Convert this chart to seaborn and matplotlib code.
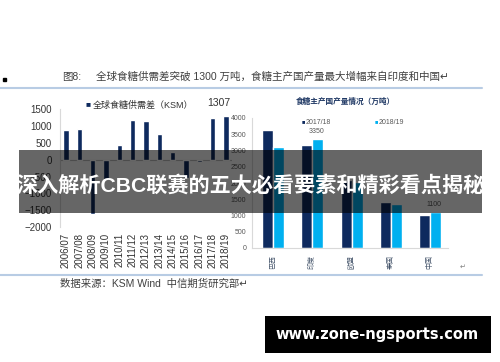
import matplotlib
matplotlib.use("Agg")
import matplotlib.pyplot as plt
import seaborn as sns
import pandas as pd
from matplotlib.patches import Rectangle

sns.set_theme(style="white")
plt.rcParams['font.family'] = ['Liberation Sans', 'Noto Sans CJK SC', 'DejaVu Sans']

# ---- data ----
seasons = ["2006/07", "2007/08", "2008/09", "2009/10", "2010/11", "2011/12", "2012/13",
           "2013/14", "2014/15", "2015/16", "2016/17", "2017/18", "2018/19"]
balance = [880, 920, -1620, -600, 430, 1180, 1150, 770, 220, -550, -50, 1240, 1307]

countries = ["巴西", "印度", "欧盟", "泰国", "中国"]
prod_1718 = [3620, 3180, 2100, 1430, 1030]
prod_1819 = [3100, 3350, 2030, 1350, 1100]
years = ["2017/18", "2018/19"]

navy = "#0e2a5e"
cyan = "#00b0f0"
W, H = 500, 362

fig = plt.figure(figsize=(5, 3.62), dpi=100)
fig.patch.set_facecolor("white")

def fx(px):
    return px / W

def fy(py):
    return 1 - py / H

# ---- left chart ----
ax1 = fig.add_axes([fx(60), fy(227), fx(232) - fx(60), fy(109.5) - fy(227)])
sns.barplot(x=seasons, y=balance, color=navy, saturation=1, width=0.4, ax=ax1)
ax1.set_ylim(-2000, 1500)
ax1.set_xlim(-0.45, 12.45)
ax1.set_yticks(range(-2000, 1501, 500))
ax1.tick_params(axis="y", labelsize=7, length=0, pad=6, labelcolor="#333333")
ax1.tick_params(axis="x", labelsize=7, length=0, pad=4, labelcolor="#333333", rotation=90)
ax1.axhline(0, color="#bfbfbf", lw=0.8, zorder=0)
for s in ["top", "right", "bottom"]:
    ax1.spines[s].set_visible(False)
ax1.spines["left"].set_color("#d9d9d9")
ax1.spines["left"].set_linewidth(0.8)
ax1.set_facecolor("none")
ax1.annotate(f"{balance[-1]}", xy=(12, balance[-1]), xytext=(-5, 6), textcoords="offset points",
             ha="center", va="bottom", fontsize=7.5, color="#333333")

# ---- right chart ----
df = pd.DataFrame({
    "country": countries * 2,
    "year": [years[0]] * len(countries) + [years[1]] * len(countries),
    "value": prod_1718 + prod_1819,
})
ax2 = fig.add_axes([fx(252), fy(248), fx(448) - fx(252), fy(118) - fy(248)])
sns.barplot(data=df, x="country", y="value", hue="year", palette=[navy, cyan], saturation=1,
            width=0.56, ax=ax2, legend=False)
ax2.set_ylim(0, 4000)
ax2.set_xlim(-0.54, 4.46)
ax2.set_yticks(range(0, 4001, 500))
ax2.set_xlabel("")
ax2.set_ylabel("")
ax2.tick_params(axis="y", labelsize=5, length=0, pad=4, labelcolor="#595959")
ax2.tick_params(axis="x", labelsize=5, length=0, pad=5, labelcolor="#44546a", rotation=90)
for s in ["top", "right"]:
    ax2.spines[s].set_visible(False)
for s in ["left", "bottom"]:
    ax2.spines[s].set_color("#d9d9d9")
    ax2.spines[s].set_linewidth(0.8)
ax2.set_facecolor("none")
for i, v in [(1, prod_1819[1]), (4, prod_1819[4])]:
    ax2.annotate(f"{v}", xy=(i + 0.14, v), xytext=(-1, 3), textcoords="offset points",
                 ha="center", va="bottom", fontsize=5, color="#595959")

# ---- overlay (page decorations) ----
ov = fig.add_axes([0, 0, 1, 1], zorder=10)
ov.set_xlim(0, W)
ov.set_ylim(H, 0)
ov.axis("off")

ov.add_patch(Rectangle((2.5, 77.5), 3, 3, color="black"))
ov.text(62, 77, "图8:", fontsize=7.5, color="#404040", ha="left", va="center")
ov.text(96, 77, "全球食糖供需差突破 1300 万吨，食糖主产国产量最大增幅来自印度和中国↵",
        fontsize=7.6, color="#404040", ha="left", va="center")
ov.plot([0, 482], [88, 88], color="#b8cce4", lw=1.5)
ov.plot([0, 482], [275, 275], color="#b8cce4", lw=1.5)
ov.text(60, 284, "数据来源：KSM Wind  中信期货研究部↵", fontsize=7.5, color="#404040",
        ha="left", va="center")
ov.text(463, 267, "↵", fontsize=5, color="#808080", ha="center", va="center")

# left legend
ov.text(88, 105, "■", fontsize=6, color=navy, ha="center", va="center")
ov.text(93, 105, "全球食糖供需差（KSM）", fontsize=6.5, color="#333333", ha="left", va="center")

# right chart title and legend
ov.text(345, 102, "食糖主产国产量情况（万吨）", fontsize=5.5, color="#1f3864",
        fontweight="bold", ha="center", va="center")
ov.text(303, 122, "■", fontsize=4, color=navy, ha="center", va="center")
ov.text(306, 122, years[0], fontsize=5, color="#595959", ha="left", va="center")
ov.text(376, 122, "■", fontsize=4, color=cyan, ha="center", va="center")
ov.text(379, 122, years[1], fontsize=5, color="#595959", ha="left", va="center")

# banner
ov.add_patch(Rectangle((19, 150), 463, 63, color="black", alpha=0.6, lw=0))
ov.text(250.5, 185, "深入解析CBC联赛的五大必看要素和精彩看点揭秘", fontsize=15.2, color="white",
        fontweight="bold", ha="center", va="center")

# website box
ov.add_patch(Rectangle((265, 316), 226, 37, color="black", lw=0))
ov.text(377.5, 335, "www.zone-ngsports.com", fontsize=10.5, color="white", fontweight="bold",
        family=["DejaVu Sans"], ha="center", va="center")

fig.savefig("out.png", dpi=100)
